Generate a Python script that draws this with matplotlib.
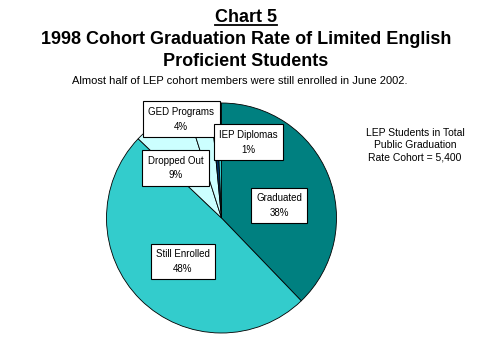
import matplotlib
matplotlib.use('Agg')
import matplotlib.pyplot as plt
from matplotlib.lines import Line2D

# --- data (slice sizes estimated from the angles) ---
categories = ['Graduated', 'Still Enrolled', 'Dropped Out', 'GED Programs', 'IEP Diplomas', '']
values = [37.8, 49.3, 8.0, 3.4, 0.8, 0.7]
pct_labels = ['38%', '48%', '9%', '4%', '1%', '']
colors = ['#008080', '#33CCCC', '#CCFFFF', '#CCFFFF', '#003366', '#33CCCC']

# label box positions (pie data coords, radius 1)
label_pos = [(0.50, 0.11), (-0.335, -0.38), (-0.40, 0.435), (-0.35, 0.86), (0.235, 0.66), None]

plt.rcParams['font.family'] = 'Liberation Sans'

W, H = 479, 359
fig = plt.figure(figsize=(W / 100, H / 100), dpi=100)
fig.patch.set_facecolor('white')

# pie centre and radius in pixels
cx, cy, r = 221.5, 218, 115
ax = fig.add_axes([(cx - r) / W, (H - cy - r) / H, 2 * r / W, 2 * r / H])
ax.pie(values, colors=colors, startangle=90, counterclock=False, radius=1,
       wedgeprops=dict(edgecolor='black', linewidth=0.6))
ax.set_xlim(-1, 1)
ax.set_ylim(-1, 1)
ax.set_aspect('equal')
ax.axis('off')

for cat, pct, pos in zip(categories, pct_labels, label_pos):
    if pos is None:
        continue
    ax.text(pos[0], pos[1], cat + '\n' + pct, ha='center', va='center',
            fontsize=7, linespacing=1.6,
            bbox=dict(boxstyle='square,pad=0.55', fc='white', ec='black', lw=0.8))

# titles
tx = 246 / W
t = fig.text(tx, 1 - 17 / H, 'Chart 5', ha='center', va='center', fontsize=13, fontweight='bold')
fig.canvas.draw()
bb = t.get_window_extent(fig.canvas.get_renderer())
fig.add_artist(Line2D([bb.x0 / W, bb.x1 / W], [1 - 25 / H, 1 - 25 / H], color='black', lw=1.3))
fig.text(tx, 1 - 40 / H, '1998 Cohort Graduation Rate of Limited English',
         ha='center', va='center', fontsize=13, fontweight='bold')
fig.text(tx, 1 - 62 / H, 'Proficient Students', ha='center', va='center',
         fontsize=13, fontweight='bold')
fig.text(240 / W, 1 - 81 / H, 'Almost half of LEP cohort members were still enrolled in June 2002.',
         ha='center', va='center', fontsize=8)

fig.text(415 / W, 1 - 145 / H, 'LEP Students in Total\nPublic Graduation\nRate Cohort = 5,400',
         ha='center', va='center', fontsize=7.5, linespacing=1.3)

fig.savefig('out.png', dpi=100)
